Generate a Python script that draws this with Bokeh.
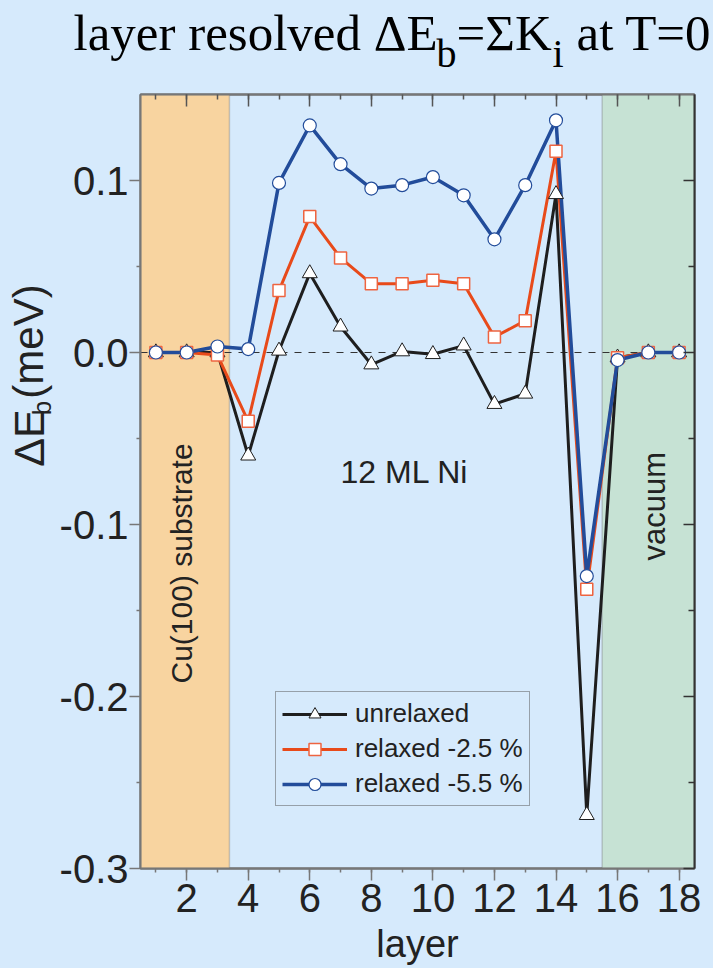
import math

from bokeh.embed import file_html
from bokeh.layouts import column, row
from bokeh.models import (BoxAnnotation, FixedTicker, Label, Legend, LegendItem, LinearAxis,
                          PrintfTickFormatter, Range1d, SingleIntervalTicker, Span)
from bokeh.plotting import figure
from bokeh.resources import INLINE

# layer-resolved change of the band energy, meV
layers = list(range(1, 19))
unrelaxed = [0.0, 0.0, 0.0, -0.060, 0.001, 0.046, 0.015, -0.007, 0.0006,
             -0.001, 0.004, -0.030, -0.024, 0.092, -0.269, -0.003, 0.0, 0.0]
relaxed_25 = [0.0, 0.0, -0.0015, -0.040, 0.036, 0.079, 0.055, 0.040, 0.040,
              0.042, 0.040, 0.009, 0.0185, 0.117, -0.1377, -0.003, 0.0, 0.0]
relaxed_55 = [0.0, 0.0, 0.0035, 0.002, 0.0986, 0.132, 0.1095, 0.0953, 0.0973,
              0.102, 0.0914, 0.0658, 0.0973, 0.135, -0.130, -0.0044, 0.0, 0.0]
series_names = ["unrelaxed", "relaxed -2.5 %", "relaxed -5.5 %"]
y_ticks = [-0.3, -0.2, -0.1, 0.0, 0.1]
y_minor = [-0.25, -0.15, -0.05, 0.05]

# region boundaries (in layer units)
substrate_end = 3.39
vacuum_start = 15.5

BG = "#d6eafc"
INK = "#222222"
SANS = "Liberation Sans"
SERIF = "Liberation Serif"
# distance from the vertical middle of a text box down to its baseline (in em)
MID_TO_BASE = {SANS: 0.3465, SERIF: 0.3375}

W, H = 713, 968
TITLE_H = 80      # strip holding the title
YLAB_W = 54       # strip holding the rotated y-axis title
MAIN_W, MAIN_H = W - YLAB_W, H - TITLE_H

# plot frame geometry in page pixels
FRAME_L, FRAME_T, FRAME_R, FRAME_B = 140, 94, 694, 868
X0, X1, Y0, Y1 = 0.5, 18.5, -0.3, 0.15


def text_strip(width, height, x_range, y_range):
    """An axis-less panel whose data units equal page pixels, for text only."""
    f = figure(width=width, height=height, x_range=x_range, y_range=y_range,
               output_backend="svg", toolbar_location=None, title=None,
               x_axis_location=None, y_axis_location=None,
               min_border=0, min_border_left=0, min_border_right=0,
               min_border_top=0, min_border_bottom=0,
               background_fill_color=BG, border_fill_color=BG, outline_line_color=None)
    f.xgrid.visible = False
    f.ygrid.visible = False
    return f


def label_at(x, y, text, size, font=SANS, color=INK, vertical=False, align="left"):
    """Label whose baseline passes through page pixel (x, y)."""
    d = MID_TO_BASE[font] * size
    if vertical:
        x -= d
    else:
        y -= d
    return x, y, dict(text=text, text_font=font, text_font_size=f"{size}px",
                      text_color=color, text_baseline="middle", text_align=align,
                      angle=math.pi / 2 if vertical else 0.0)


def put(fig, *args, **kw):
    x, y, props = label_at(*args, **kw)
    fig.add_layout(Label(x=x, y=y, **props))


def put_data(fig, *args, **kw):
    """Same as put, but converting page pixels to the main plot's data units."""
    x, y, props = label_at(*args, **kw)
    dx = X0 + (x - FRAME_L) * (X1 - X0) / (FRAME_R - FRAME_L)
    dy = Y1 - (y - FRAME_T) * (Y1 - Y0) / (FRAME_B - FRAME_T)
    fig.add_layout(Label(x=dx, y=dy, **props))


# ---- title strip: layer resolved ΔE_b=ΣK_i at T=0
tf = text_strip(W, TITLE_H, Range1d(0, W), Range1d(TITLE_H, 0))
put(tf, 73, 50, "layer resolved \u0394E", 51, font=SERIF, color="black")
put(tf, 436, 66, "b", 40, font=SERIF, color="black")
put(tf, 456, 50, "=\u03a3K", 51, font=SERIF, color="black")
put(tf, 552, 66, "i", 40, font=SERIF, color="black")
put(tf, 576, 50, "at T=0", 51, font=SERIF, color="black")

# ---- y-axis title strip: ΔE_b (meV)
yf = text_strip(YLAB_W, MAIN_H, Range1d(0, YLAB_W), Range1d(H, TITLE_H))
put(yf, 43, 507, "\u0394E", 43, vertical=True)
put(yf, 51, 448, "b", 26, vertical=True)
put(yf, 43, 429, "(meV)", 42, vertical=True)

# ---- main plot
p = figure(width=MAIN_W, height=MAIN_H, x_range=Range1d(X0, X1),
           y_range=Range1d(Y0, Y1), output_backend="svg", toolbar_location=None,
           title=None, min_border_left=FRAME_L - YLAB_W, min_border_right=W - FRAME_R,
           min_border_top=FRAME_T - TITLE_H, min_border_bottom=H - FRAME_B,
           background_fill_color=BG, border_fill_color=BG)
p.xgrid.visible = False
p.ygrid.visible = False
p.outline_line_color = "#5a5a5a"
p.outline_line_width = 2

AX = "#777777"

# bottom axis
xa = p.xaxis[0]
xa.ticker = SingleIntervalTicker(interval=2, num_minor_ticks=2)
xa.major_tick_out = 12
xa.major_tick_in = 0
xa.minor_tick_out = 4
xa.minor_tick_in = 0
xa.major_tick_line_color = AX
xa.minor_tick_line_color = AX
xa.major_tick_line_width = 1.5
xa.minor_tick_line_width = 1.5
xa.axis_line_color = AX
xa.axis_line_width = 2
xa.major_label_text_font = SANS
xa.major_label_text_font_size = "40px"
xa.major_label_text_color = INK
xa.major_label_standoff = 3
xa.axis_label = "layer"
xa.axis_label_text_font = SANS
xa.axis_label_text_font_size = "38px"
xa.axis_label_text_font_style = "normal"
xa.axis_label_text_color = INK
xa.axis_label_standoff = 8

# left axis
ya = p.yaxis[0]
ya.ticker = FixedTicker(ticks=y_ticks, minor_ticks=y_minor)
ya.formatter = PrintfTickFormatter(format="%.1f")
ya.major_tick_out = 11
ya.major_tick_in = 0
ya.minor_tick_out = 4
ya.minor_tick_in = 0
ya.major_tick_line_color = AX
ya.minor_tick_line_color = AX
ya.major_tick_line_width = 1.5
ya.minor_tick_line_width = 1.5
ya.axis_line_color = AX
ya.axis_line_width = 2
ya.major_label_text_font = SANS
ya.major_label_text_font_size = "40px"
ya.major_label_text_color = INK
ya.major_label_standoff = 1

# mirrored tick marks on top and right
top = LinearAxis(ticker=SingleIntervalTicker(interval=2, num_minor_ticks=2),
                 major_tick_in=12, major_tick_out=0, minor_tick_in=5, minor_tick_out=0,
                 major_tick_line_color="#555555", minor_tick_line_color="#555555",
                 major_tick_line_width=1.5, minor_tick_line_width=1.5,
                 axis_line_color="#777777", axis_line_width=2,
                 major_label_text_font_size="0px", major_label_standoff=0)
p.add_layout(top, "above")
right = LinearAxis(ticker=FixedTicker(ticks=y_ticks, minor_ticks=y_minor),
                   major_tick_in=11, major_tick_out=0, minor_tick_in=6, minor_tick_out=0,
                   major_tick_line_color="#333333", minor_tick_line_color="#333333",
                   major_tick_line_width=1.5, minor_tick_line_width=1.5,
                   axis_line_color="#333333", axis_line_width=2,
                   major_label_text_font_size="0px", major_label_standoff=0)
p.add_layout(right, "right")

# shaded regions: substrate and vacuum
p.add_layout(BoxAnnotation(right=substrate_end, fill_color="#f8d4a0", fill_alpha=1,
                           line_color="#6a6a6a", line_width=1.5, level="underlay"))
p.add_layout(BoxAnnotation(left=vacuum_start, fill_color="#c6e2d4", fill_alpha=1,
                           line_color="#6a6a6a", line_width=1.5, level="underlay"))
p.add_layout(Span(location=0, dimension="width", line_color="#333333", line_width=1,
                  line_dash="7 7", level="underlay"))

BLACK = "#1e1e1e"
ORANGE = "#e84a1a"
BLUE = "#224c9a"

l1 = p.line(layers, unrelaxed, line_color=BLACK, line_width=3)
l2 = p.line(layers, relaxed_25, line_color=ORANGE, line_width=3)
l3 = p.line(layers, relaxed_55, line_color=BLUE, line_width=3.5)
m1 = p.scatter(layers, unrelaxed, marker="triangle", size=15, fill_color="white",
               line_color=BLACK, line_width=1)
m2 = p.scatter(layers, relaxed_25, marker="square", size=12, fill_color="white",
               line_color="#ee6440", line_width=1.5)
m3 = p.scatter(layers, relaxed_55, marker="circle", size=13, fill_color="white",
               line_color=BLUE, line_width=1.2)

legend = Legend(items=[LegendItem(label=series_names[0], renderers=[l1, m1]),
                       LegendItem(label=series_names[1], renderers=[l2, m2]),
                       LegendItem(label=series_names[2], renderers=[l3, m3])],
                location=(135, 62), glyph_width=65, glyph_height=30, label_height=30,
                label_text_font=SANS, label_text_font_size="26px", label_text_color=INK,
                label_standoff=8, padding=6, spacing=4, margin=0,
                background_fill_color=BG, background_fill_alpha=1,
                border_line_color="#555555", border_line_width=1.5)
p.add_layout(legend)

# in-plot annotations
put_data(p, 191, 683, "Cu(100) substrate", 30, vertical=True)
put_data(p, 340, 483, "12 ML Ni", 32)
put_data(p, 665, 560, "vacuum", 31, vertical=True)

page = column(tf, row(yf, p, spacing=0, styles={"background-color": BG}),
              spacing=0, styles={"background-color": BG})
open("out.html", "w").write(file_html(page, INLINE))
